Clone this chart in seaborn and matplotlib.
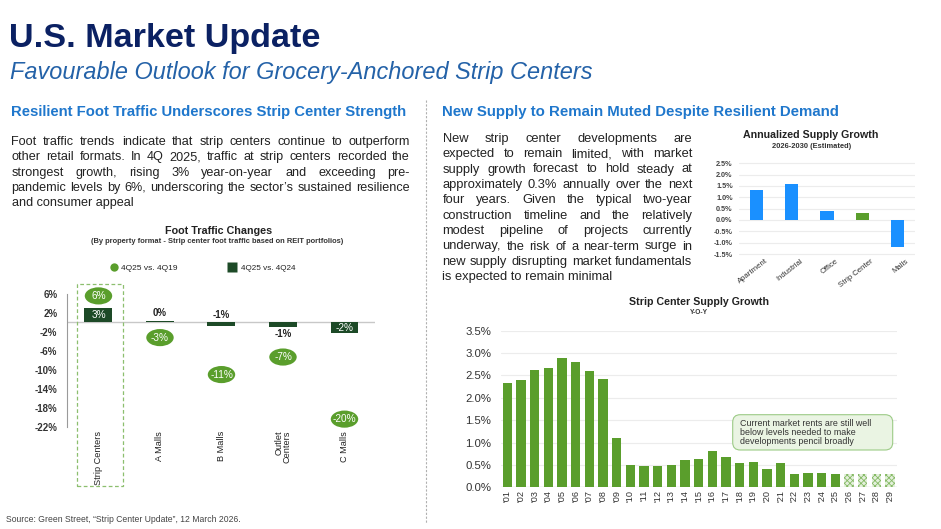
import numpy as np
import matplotlib
matplotlib.use("Agg")
import matplotlib.pyplot as plt
import seaborn as sns
from matplotlib.path import Path
from matplotlib.transforms import Affine2D, blended_transform_factory, ScaledTranslation
from matplotlib.patches import Rectangle, FancyBboxPatch
from matplotlib.lines import Line2D

# ---------------- data ----------------
formats = ["Strip Centers", "A Malls", "B Malls", "Outlet\nCenters", "C Malls"]
vs_4q19 = [5.6, -3.2, -11.0, -7.3, -20.4]
vs_4q24 = [3.0, 0.4, -0.7, -0.9, -2.3]
ft_yticks = [6, 2, -2, -6, -10, -14, -18, -22]
bar_label_pos = ["in", "above", "above", "below", "in"]

supply_types = ["Apartment", "Industrial", "Office", "Strip Center", "Malls"]
supply_growth = [1.31, 1.59, 0.38, 0.29, -1.18]
supply_yticks = [2.5, 2.0, 1.5, 1.0, 0.5, 0.0, -0.5, -1.0, -1.5]

years = ["'01", "'02", "'03", "'04", "'05", "'06", "'07", "'08", "'09", "'10",
         "'11", "'12", "'13", "'14", "'15", "'16", "'17", "'18", "'19", "'20",
         "'21", "'22", "'23", "'24", "'25", "'26", "'27", "'28", "'29"]
yoy_growth = [2.33, 2.39, 2.62, 2.67, 2.90, 2.80, 2.61, 2.41, 1.11, 0.50,
              0.47, 0.47, 0.50, 0.61, 0.63, 0.81, 0.67, 0.55, 0.56, 0.41,
              0.55, 0.30, 0.33, 0.32, 0.30, 0.30, 0.30, 0.30, 0.30]
first_forecast_year = 26
strip_yticks = [0.0, 0.5, 1.0, 1.5, 2.0, 2.5, 3.0, 3.5]

left_para = [
    "Foot traffic trends indicate that strip centers continue to outperform",
    "other retail formats. In 4Q 2025, traffic at strip centers recorded the",
    "strongest growth, rising 3% year-on-year and exceeding pre-",
    "pandemic levels by 6%, underscoring the sector\u2019s sustained resilience",
    "and consumer appeal",
]
right_para = [
    "New strip center developments are",
    "expected to remain limited, with market",
    "supply growth forecast to hold steady at",
    "approximately 0.3% annually over the next",
    "four years. Given the typical two-year",
    "construction timeline and the relatively",
    "modest pipeline of projects currently",
    "underway, the risk of a near-term surge in",
    "new supply disrupting market fundamentals",
    "is expected to remain minimal",
]
note = ["Current market rents are still well", "below levels needed to make",
        "developments pencil broadly"]

# ---------------- style ----------------
sns.set_theme(style="white")
plt.rcParams["font.family"] = ["Liberation Sans", "DejaVu Sans"]
plt.rcParams["hatch.linewidth"] = 0.6

NAVY = "#0b2163"
SUBBLUE = "#2462a8"
HEADBLUE = "#1f77cc"
GREEN = "#5a9e2c"
DKGREEN = "#1d4a27"
BLUE = "#1a90ff"
TXT = "#222222"

W, H = 941, 529
fig = plt.figure(figsize=(W / 100, H / 100), dpi=100)
renderer = fig.canvas.get_renderer()


def fx(x):
    return x / W


def fy(y):
    return 1 - y / H


def axes_px(l, t, r, b):
    return fig.add_axes([l / W, 1 - b / H, (r - l) / W, (b - t) / H])


def text_width(t):
    return t.get_window_extent(renderer).width


def fit_text(x, y, s, width, ha="left", va="baseline", **kw):
    t = fig.text(fx(x), fy(y), s, ha=ha, va=va, fontsize=10, **kw)
    w = text_width(t)
    t.set_fontsize(10 * width / w)
    return t


def fit_size(s, width, **kw):
    t = fig.text(0, 0, s, fontsize=10, **kw)
    w = text_width(t)
    t.remove()
    return 10 * width / w


def para_size(lines, avail):
    """Largest size at which every non-final line fits with normal word spaces."""
    best = 99.0
    for line in lines[:-1]:
        s = fit_size(line, avail)
        best = min(best, s)
    return best


def justified(lines, x0, x1, y0, dy, size, color=TXT):
    for i, line in enumerate(lines):
        y = y0 + i * dy
        if i == len(lines) - 1:
            fig.text(fx(x0), fy(y), line, fontsize=size, color=color, va="baseline")
            continue
        words = line.split()
        ts = [fig.text(fx(x0), fy(y), w, fontsize=size, color=color, va="baseline")
              for w in words]
        widths = [text_width(t) for t in ts]
        gap = (x1 - x0 - sum(widths)) / (len(words) - 1)
        x = x0
        for t, wd in zip(ts, widths):
            t.set_x(fx(x))
            x += wd + gap


# ---------------- header texts ----------------
fit_text(8.7, 47, "U.S. Market Update", 313, fontweight="bold", color=NAVY)
fit_text(10, 79, "Favourable Outlook for Grocery-Anchored Strip Centers", 584,
         style="italic", color=SUBBLUE)
fit_text(11, 116, "Resilient Foot Traffic Underscores Strip Center Strength", 399,
         fontweight="bold", color=HEADBLUE)
fit_text(442.5, 116, "New Supply to Remain Muted Despite Resilient Demand", 398,
         fontweight="bold", color=HEADBLUE)

ls = para_size(left_para, 398.5) * 0.99
justified(left_para, 11.5, 410, 145, 15.3, ls)
rs = para_size(right_para, 250) * 0.99
justified(right_para, 442.5, 692.5, 141.7, 15.4, rs)

fig.add_artist(Line2D([fx(426), fx(426)], [fy(100), fy(523)], transform=fig.transFigure,
                      color="#b0b0b0", lw=0.8, dashes=(2, 1.5)))
fit_text(6, 522.5, "Source: Green Street, \u201cStrip Center Update\u201d, 12 March 2026.",
         233, color="#444444")

# ---------------- Foot Traffic chart ----------------
fit_text(218.3, 233.5, "Foot Traffic Changes", 106.5, ha="center",
         fontweight="bold", color=TXT)
fit_text(217.5, 243, "(By property format - Strip center foot traffic based on REIT portfolios)",
         251, ha="center", fontweight="bold", color="#333333")

fig.add_artist(Line2D([fx(113.5)], [fy(266.7)], transform=fig.transFigure, marker="o",
                      ms=6, color=GREEN, mec="none"))
fit_text(121, 269.7, "4Q25 vs. 4Q19", 56, color=TXT)
fig.add_artist(Line2D([fx(232)], [fy(266.7)], transform=fig.transFigure, marker="s",
                      ms=6.6, color=DKGREEN, mec="none"))
fit_text(241, 269.7, "4Q25 vs. 4Q24", 54.5, color=TXT)

ax1 = axes_px(67.3, 294, 375, 426.7)
sns.barplot(x=formats, y=vs_4q24, color=DKGREEN, saturation=1, width=0.455,
            errorbar=None, linewidth=0, ax=ax1, zorder=2)
ellipse = Path.unit_circle().transformed(Affine2D().scale(1.6, 1.0))
sns.scatterplot(x=np.arange(len(formats)), y=vs_4q19, marker=ellipse, s=390,
                color=GREEN, edgecolor="none", linewidth=0, ax=ax1, zorder=3,
                clip_on=False, legend=False)
ax1.set_xlim(-0.507, 4.496)
ax1.set_ylim(-22, 6)
ax1.set_yticks(ft_yticks)
ax1.set_yticklabels([f"{v}%" for v in ft_yticks], fontsize=7, fontweight="bold",
                    color="#333333")
ax1.tick_params(axis="y", length=0, pad=7.2)
ax1.tick_params(axis="x", length=0, pad=3)
ax1.set_xticks(range(len(formats)))
ax1.set_xticklabels(formats, rotation=90, va="top", ha="center", fontsize=6.6,
                    multialignment="right", color=TXT, linespacing=0.95)
for s in ["top", "right", "bottom"]:
    ax1.spines[s].set_visible(False)
ax1.spines["left"].set_color("#9a9a9a")
ax1.spines["left"].set_linewidth(0.8)
ax1.axhline(0, color="#c8c8c8", lw=1, zorder=1)
ax1.set_xlabel("")
ax1.set_ylabel("")
for i, v in enumerate(vs_4q19):
    ax1.text(i, v, f"{round(v)}%", ha="center", va="center", color="white",
             fontsize=7.2, zorder=4, clip_on=False)
for i, (v, pos) in enumerate(zip(vs_4q24, bar_label_pos)):
    lab = f"{round(v)}%"
    if pos == "in":
        ax1.text(i, v / 2, lab, ha="center", va="center", color="white", fontsize=7.2, zorder=4)
    elif pos == "above":
        ax1.text(i, max(v, 0) + 0.6, lab, ha="center", va="bottom", color=TXT,
                 fontsize=7, fontweight="bold", zorder=4)
    else:
        ax1.text(i, min(v, 0) - 0.4, lab, ha="center", va="top", color=TXT,
                 fontsize=7, fontweight="bold", zorder=4)
tr = blended_transform_factory(ax1.transData, ax1.transAxes)
ax1.add_patch(Rectangle((-0.345, -0.445), 0.745, 1.518, transform=tr, fill=False,
                        edgecolor="#8cbf6e", lw=0.9, ls=(0, (3, 2)), clip_on=False))

# ---------------- Annualized Supply Growth ----------------
fit_text(811, 138.5, "Annualized Supply Growth", 136, ha="center",
         fontweight="bold", color=TXT)
fit_text(811.5, 147.5, "2026-2030 (Estimated)", 79, ha="center",
         fontweight="bold", color="#333333")
ax2 = axes_px(739, 161, 915, 256.3)
colors2 = [GREEN if t == "Strip Center" else BLUE for t in supply_types]
sns.barplot(x=supply_types, y=supply_growth, hue=supply_types, palette=colors2,
            saturation=1, width=0.38, errorbar=None, linewidth=0, legend=False,
            ax=ax2, zorder=2)
ax2.set_ylim(-1.6, 2.6)
ax2.set_xlim(-0.5, 4.5)
ax2.set_yticks(supply_yticks)
ax2.set_yticklabels([f"{v:.1f}%" for v in supply_yticks], fontsize=5.2,
                    fontweight="bold", color="#444444")
ax2.tick_params(axis="y", length=0, pad=4.5)
ax2.tick_params(axis="x", length=0, pad=1)
ax2.set_xticks(range(len(supply_types)))
ax2.set_xticklabels(supply_types, rotation=38, ha="right", rotation_mode="anchor",
                    fontsize=5.6, color="#333333")
off = ScaledTranslation(8 / 100, 0, fig.dpi_scale_trans)
for lab in ax2.get_xticklabels():
    lab.set_transform(lab.get_transform() + off)
for y in supply_yticks:
    ax2.axhline(y, color="#ececec", lw=0.8, zorder=0)
for s in ax2.spines.values():
    s.set_visible(False)
ax2.set_xlabel("")
ax2.set_ylabel("")

# ---------------- Strip Center Supply Growth ----------------
fit_text(699.3, 305, "Strip Center Supply Growth", 140, ha="center",
         fontweight="bold", color=TXT)
fit_text(699.3, 314.5, "Y-O-Y", 18, ha="center", fontweight="bold", color="#333333")
ax3 = axes_px(501, 330.7, 896.7, 487.3)
sns.barplot(x=years, y=yoy_growth, color=GREEN, saturation=1, width=0.68,
            errorbar=None, linewidth=0, ax=ax3, zorder=2)
for p, yr in zip(ax3.patches, years):
    if int(yr[1:]) >= first_forecast_year:
        p.set_facecolor("#e4f0dc")
        p.set_edgecolor("#86ba66")
        p.set_hatch("xxxxxx")
        p.set_linewidth(0)
ax3.set_xlim(-0.46, 28.49)
ax3.set_ylim(0, 3.5)
ax3.set_yticks(strip_yticks)
ax3.set_yticklabels([f"{v:.1f}%" for v in strip_yticks], fontsize=8.2,
                    color="#333333")
ax3.tick_params(axis="y", length=0, pad=7)
ax3.tick_params(axis="x", length=0, pad=2)
ax3.set_xticks(range(len(years)))
ax3.set_xticklabels(years, rotation=90, va="top", ha="center", fontsize=6.6,
                    color="#333333")
for y in strip_yticks[1:]:
    ax3.axhline(y, color="#ececec", lw=0.8, zorder=0)
ax3.axhline(0, color="#d0d0d0", lw=1, zorder=1)
for s in ax3.spines.values():
    s.set_visible(False)
ax3.set_xlabel("")
ax3.set_ylabel("")

box = FancyBboxPatch((fx(732.7), fy(450)), (892.7 - 732.7) / W, (450 - 414.7) / H,
                     boxstyle="round,pad=0,rounding_size=0.008",
                     transform=fig.transFigure, facecolor="#eaf4e3",
                     edgecolor="#9ccb86", lw=0.8, mutation_aspect=W / H)
fig.add_artist(box)
ns = fit_size(note[0], 130)
for i, line in enumerate(note):
    fig.text(fx(740), fy(426 + i * 8.8), line, fontsize=ns, color="#333333", va="baseline")

fig.savefig("out.png", dpi=100)
